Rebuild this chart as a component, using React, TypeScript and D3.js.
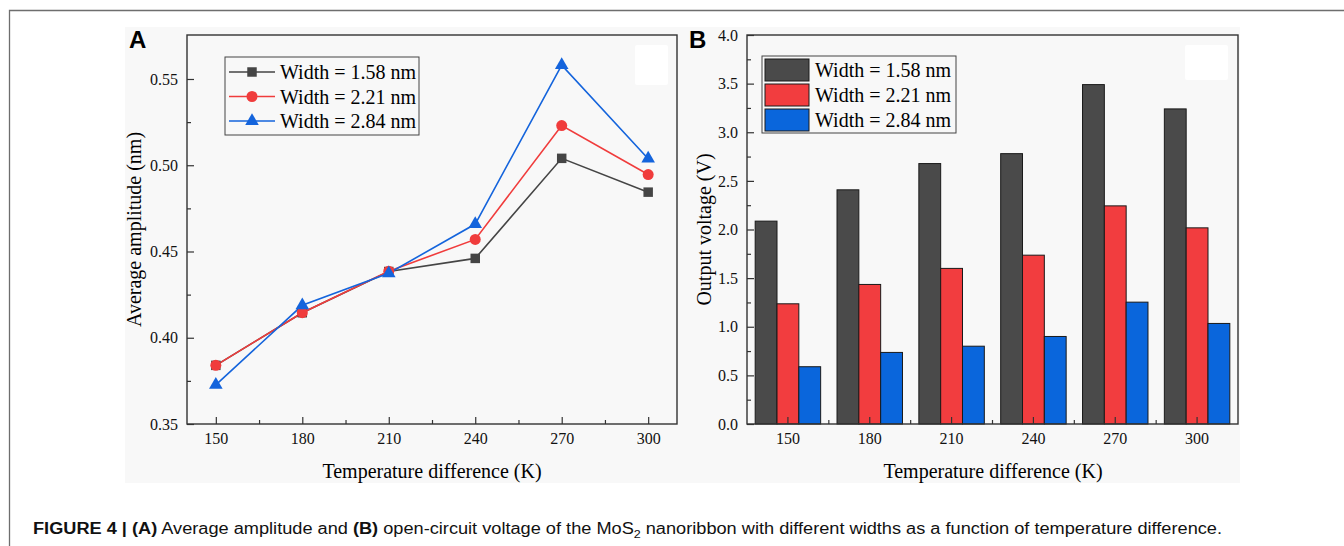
import React, { useEffect, useRef } from 'react';
import * as d3 from 'd3';

// temperature difference (K)
const temps = [150, 180, 210, 240, 270, 300];
const seriesNames = ['Width = 1.58 nm', 'Width = 2.21 nm', 'Width = 2.84 nm'];
const seriesColors = ['#454545', '#f03c3c', '#1464dc'];
const barColors = ['#4a4a4a', '#f23d3f', '#0a66dc'];

// panel A: average amplitude (nm)
const ampW158 = [0.384, 0.4145, 0.4384, 0.446, 0.504, 0.4844];
const ampW221 = [0.384, 0.4145, 0.4386, 0.457, 0.523, 0.4946];
const ampW284 = [0.3727, 0.4188, 0.4374, 0.4659, 0.558, 0.5038];
const ampTicks = [0.35, 0.4, 0.45, 0.5, 0.55];
const ampMinor = [0.375, 0.425, 0.475, 0.525];

// panel B: output voltage (V)
const voltW158 = [2.086, 2.408, 2.678, 2.78, 3.49, 3.24];
const voltW221 = [1.236, 1.435, 1.6, 1.736, 2.243, 2.017];
const voltW284 = [0.589, 0.736, 0.8, 0.9, 1.253, 1.034];
const voltTicks = [0, 0.5, 1, 1.5, 2, 2.5, 3, 3.5, 4];
const voltMinor = [0.25, 0.75, 1.25, 1.75, 2.25, 2.75, 3.25, 3.75];

const serif = '"Liberation Serif", "Times New Roman", serif';
const sans = '"Liberation Sans", Arial, sans-serif';

export default () => {
    const svgRef = useRef(null);
    const width = 1344;
    const height = 546;

    useEffect(() => {
        const svg = d3.select(svgRef.current);
        svg.selectAll('*').remove();

        // figure frame + grey image background
        svg.append('path')
            .attr('d', `M9.5,546V10.5H1344`)
            .attr('fill', 'none')
            .attr('stroke', '#6e6e6e')
            .attr('stroke-width', 1.3);
        svg.append('rect')
            .attr('x', 125).attr('y', 27)
            .attr('width', 1115).attr('height', 456)
            .attr('fill', '#f8f8f8');

        const axisLine = '#333';

        // ---------------- Panel A ----------------
        const a = { left: 187, right: 677, top: 35, bottom: 424 };
        const xA = d3.scaleLinear().domain([140, 310]).range([a.left, a.right]);
        const yA = d3.scaleLinear().domain([0.35, 0.5755]).range([a.bottom, a.top]);

        const gA = svg.append('g');
        gA.append('rect')
            .attr('x', 635).attr('y', 45).attr('width', 33).attr('height', 40)
            .attr('rx', 2).attr('fill', '#fff');

        const axA = gA.append('g')
            .attr('transform', `translate(0,${a.bottom})`)
            .call(d3.axisBottom(xA).tickValues(temps).tickSizeInner(-7).tickSizeOuter(0).tickPadding(9));
        gA.append('g')
            .attr('transform', `translate(0,${a.bottom})`)
            .call(d3.axisBottom(xA).tickValues([165, 195, 225, 255, 285]).tickSize(-4).tickFormat(() => ''));
        const ayA = gA.append('g')
            .attr('transform', `translate(${a.left},0)`)
            .call(d3.axisLeft(yA).tickValues(ampTicks).tickFormat(d3.format('.2f')).tickSizeInner(-7).tickSizeOuter(0).tickPadding(9));
        gA.append('g')
            .attr('transform', `translate(${a.left},0)`)
            .call(d3.axisLeft(yA).tickValues(ampMinor).tickSize(-4).tickFormat(() => ''));

        gA.append('rect')
            .attr('x', a.left).attr('y', a.top)
            .attr('width', a.right - a.left).attr('height', a.bottom - a.top)
            .attr('fill', 'none').attr('stroke', axisLine).attr('stroke-width', 1.4);

        const ampSeries = [ampW158, ampW221, ampW284];
        const symbols = [d3.symbolSquare, d3.symbolCircle, d3.symbolTriangle];
        const symSize = [90, 95, 80];
        const line = d3.line().x((d, i) => xA(temps[i])).y(d => yA(d));

        ampSeries.forEach((vals, s) => {
            gA.append('path')
                .datum(vals)
                .attr('fill', 'none')
                .attr('stroke', seriesColors[s])
                .attr('stroke-width', 1.6)
                .attr('d', line);
        });
        ampSeries.forEach((vals, s) => {
            gA.selectAll(null)
                .data(vals)
                .enter()
                .append('path')
                .attr('transform', (d, i) => `translate(${xA(temps[i])},${yA(d)})`)
                .attr('d', d3.symbol().type(symbols[s]).size(symSize[s]))
                .attr('fill', seriesColors[s]);
        });

        // legend A
        const lgA = gA.append('g');
        lgA.append('rect')
            .attr('x', 225).attr('y', 57).attr('width', 194).attr('height', 78)
            .attr('fill', '#f8f8f8').attr('stroke', '#444').attr('stroke-width', 1);
        seriesNames.forEach((name, s) => {
            const cy = 72 + s * 24.5;
            lgA.append('line')
                .attr('x1', 229).attr('x2', 275).attr('y1', cy).attr('y2', cy)
                .attr('stroke', seriesColors[s]).attr('stroke-width', 1.6);
            lgA.append('path')
                .attr('transform', `translate(252,${cy})`)
                .attr('d', d3.symbol().type(symbols[s]).size(symSize[s]))
                .attr('fill', seriesColors[s]);
            lgA.append('text')
                .attr('x', 280).attr('y', cy + 7)
                .attr('font-family', serif).attr('font-size', 20)
                .text(name);
        });

        gA.append('text')
            .attr('x', 432).attr('y', 478)
            .attr('text-anchor', 'middle')
            .attr('font-family', serif).attr('font-size', 20)
            .text('Temperature difference (K)');
        gA.append('text')
            .attr('transform', `translate(141,${(a.top + a.bottom) / 2}) rotate(-90)`)
            .attr('text-anchor', 'middle')
            .attr('font-family', serif).attr('font-size', 20)
            .text('Average amplitude (nm)');
        gA.append('text')
            .attr('x', 129).attr('y', 48)
            .attr('font-family', sans).attr('font-weight', 'bold').attr('font-size', 24)
            .text('A');

        // ---------------- Panel B ----------------
        const b = { left: 747, right: 1238, top: 35, bottom: 424 };
        const xB = d3.scaleBand().domain(temps.map(String)).range([b.left, b.right]).paddingInner(0.2).paddingOuter(0.1);
        const xSub = d3.scaleBand().domain(['0', '1', '2']).range([0, xB.bandwidth()]);
        const yB = d3.scaleLinear().domain([0, 4]).range([b.bottom, b.top]);

        const gB = svg.append('g');
        gB.append('rect')
            .attr('x', 1185).attr('y', 45).attr('width', 43).attr('height', 35)
            .attr('rx', 2).attr('fill', '#fff');

        const voltSeries = [voltW158, voltW221, voltW284];
        voltSeries.forEach((vals, s) => {
            gB.selectAll(null)
                .data(vals)
                .enter()
                .append('rect')
                .attr('x', (d, i) => xB(String(temps[i])) + xSub(String(s)))
                .attr('y', d => yB(d))
                .attr('width', xSub.bandwidth())
                .attr('height', d => yB(0) - yB(d))
                .attr('fill', barColors[s])
                .attr('stroke', '#1a1a1a')
                .attr('stroke-width', 1);
        });

        const axB = gB.append('g')
            .attr('transform', `translate(0,${b.bottom})`)
            .call(d3.axisBottom(xB).tickSizeInner(-7).tickSizeOuter(0).tickPadding(9));
        // minor ticks between groups
        const step = xB.step();
        const between = temps.slice(1).map(t => xB(String(t)) - step * 0.1);
        gB.append('g')
            .selectAll('line')
            .data(between)
            .enter()
            .append('line')
            .attr('x1', d => d).attr('x2', d => d)
            .attr('y1', b.bottom).attr('y2', b.bottom - 4)
            .attr('stroke', axisLine).attr('stroke-width', 1.2);
        const ayB = gB.append('g')
            .attr('transform', `translate(${b.left},0)`)
            .call(d3.axisLeft(yB).tickValues(voltTicks).tickFormat(d3.format('.1f')).tickSizeInner(-7).tickSizeOuter(0).tickPadding(9));
        gB.append('g')
            .attr('transform', `translate(${b.left},0)`)
            .call(d3.axisLeft(yB).tickValues(voltMinor).tickSize(-4).tickFormat(() => ''));

        gB.append('rect')
            .attr('x', b.left).attr('y', b.top)
            .attr('width', b.right - b.left).attr('height', b.bottom - b.top)
            .attr('fill', 'none').attr('stroke', axisLine).attr('stroke-width', 1.4);

        // legend B
        const lgB = gB.append('g');
        lgB.append('rect')
            .attr('x', 762).attr('y', 56).attr('width', 194).attr('height', 77)
            .attr('fill', '#f8f8f8').attr('stroke', '#444').attr('stroke-width', 1);
        seriesNames.forEach((name, s) => {
            const top = 59 + s * 25;
            lgB.append('rect')
                .attr('x', 765).attr('y', top).attr('width', 44).attr('height', 22)
                .attr('fill', barColors[s]).attr('stroke', '#1a1a1a').attr('stroke-width', 1);
            lgB.append('text')
                .attr('x', 815).attr('y', top + 18)
                .attr('font-family', serif).attr('font-size', 20)
                .text(name);
        });

        gB.append('text')
            .attr('x', 993).attr('y', 478)
            .attr('text-anchor', 'middle')
            .attr('font-family', serif).attr('font-size', 20)
            .text('Temperature difference (K)');
        gB.append('text')
            .attr('transform', `translate(711,${(b.top + b.bottom) / 2}) rotate(-90)`)
            .attr('text-anchor', 'middle')
            .attr('font-family', serif).attr('font-size', 20)
            .text('Output voltage (V)');
        gB.append('text')
            .attr('x', 689).attr('y', 48)
            .attr('font-family', sans).attr('font-weight', 'bold').attr('font-size', 24)
            .text('B');

        // axis styling
        svg.selectAll('.domain').remove();
        svg.selectAll('.tick line').attr('stroke', axisLine).attr('stroke-width', 1.2);
        [axA, ayA, axB, ayB].forEach(g => {
            g.selectAll('.tick text')
                .attr('font-family', serif)
                .attr('font-size', 16)
                .attr('fill', '#111');
        });

        // caption
        const cap = svg.append('text')
            .attr('x', 33).attr('y', 534)
            .attr('font-family', sans).attr('font-size', 16)
            .attr('fill', '#111')
            .attr('textLength', 1189)
            .attr('lengthAdjust', 'spacingAndGlyphs');
        cap.append('tspan').attr('font-weight', 'bold').text('FIGURE 4 | (A)');
        cap.append('tspan').text(' Average amplitude and ');
        cap.append('tspan').attr('font-weight', 'bold').text('(B)');
        cap.append('tspan').text(' open-circuit voltage of the MoS');
        cap.append('tspan').attr('font-size', 11).attr('dy', 4).text('2');
        cap.append('tspan').attr('dy', -4).text(' nanoribbon with different widths as a function of temperature difference.');
    }, []);

    return <>
        <svg ref={svgRef} width={width} height={height}
            style={{ position: 'absolute', left: 0, top: 0, background: '#fff' }}></svg>
    </>;
};
